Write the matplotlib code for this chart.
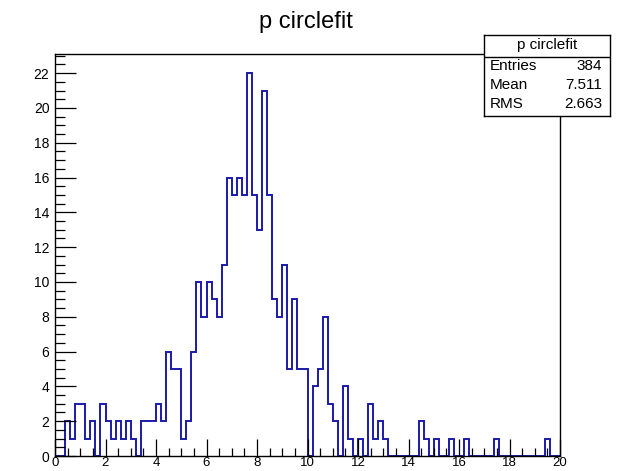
import numpy as np
import matplotlib
matplotlib.use("Agg")
import matplotlib.pyplot as plt
from matplotlib.ticker import MultipleLocator

plt.rcParams['font.family'] = ['Liberation Sans', 'DejaVu Sans']

# histogram p circlefit, 100 bins from 0 to 20
bin_edges = np.linspace(0, 20, 101)
counts = [0, 0, 2, 1, 3, 3, 1, 2, 0, 3,
          2, 1, 2, 1, 2, 1, 0, 2, 2, 2,
          3, 2, 6, 5, 5, 1, 2, 6, 10, 8,
          10, 9, 8, 11, 16, 15, 16, 15, 22, 15,
          13, 21, 15, 9, 8, 11, 5, 9, 5, 5,
          0, 4, 5, 8, 3, 2, 0, 4, 1, 0,
          1, 0, 3, 1, 2, 1, 0, 0, 0, 0,
          0, 0, 2, 1, 0, 1, 0, 0, 1, 0,
          0, 1, 0, 0, 0, 0, 0, 1, 0, 0,
          0, 0, 0, 0, 0, 0, 0, 1, 0, 0]

title = "p circlefit"
stat_names = ["Entries", "Mean", "RMS"]
stat_values = ["384", "7.511", "2.663"]

W, H = 619, 471
fig = plt.figure(figsize=(W / 100, H / 100), dpi=100)
ax = fig.add_axes([55 / W, 1 - 456 / H, 505 / W, 402 / H])

ax.stairs(counts, bin_edges, color="#1a1aa8", linewidth=1.4)
ax.set_xlim(0, 20)
ax.set_ylim(0, 1.05 * max(counts))

ax.xaxis.set_major_locator(MultipleLocator(2))
ax.xaxis.set_minor_locator(MultipleLocator(0.5))
ax.yaxis.set_major_locator(MultipleLocator(2))
ax.yaxis.set_minor_locator(MultipleLocator(0.5))
ax.tick_params(axis="both", which="both", direction="in", top=False, right=False,
               width=0.9, colors="black")
ax.tick_params(axis="x", which="major", length=12, pad=0.5, labelsize=9.5)
ax.tick_params(axis="x", which="minor", length=6)
ax.tick_params(axis="y", which="major", length=15, pad=4, labelsize=10)
ax.tick_params(axis="y", which="minor", length=7.5)
for sp in ax.spines.values():
    sp.set_linewidth(1.0)

fig.text(305.5 / W, 1 - 22 / H, title, ha="center", va="center", fontsize=17)

# stats box
sb = fig.add_axes([484 / W, 1 - 116 / H, 126 / W, 81 / H])
sb.set_xlim(0, 126)
sb.set_ylim(81, 0)
sb.set_xticks([])
sb.set_yticks([])
sb.set_facecolor("white")
for sp in sb.spines.values():
    sp.set_linewidth(1.0)
sb.axhline(21.5, color="black", linewidth=1.0)
sb.text(63, 10.5, title, ha="center", va="center", fontsize=11)
for i in range(len(stat_names)):
    y = 31 + i * 19
    sb.text(6, y, stat_names[i], ha="left", va="center", fontsize=11)
    sb.text(118, y, stat_values[i], ha="right", va="center", fontsize=11)

fig.savefig("out.png", dpi=100)
